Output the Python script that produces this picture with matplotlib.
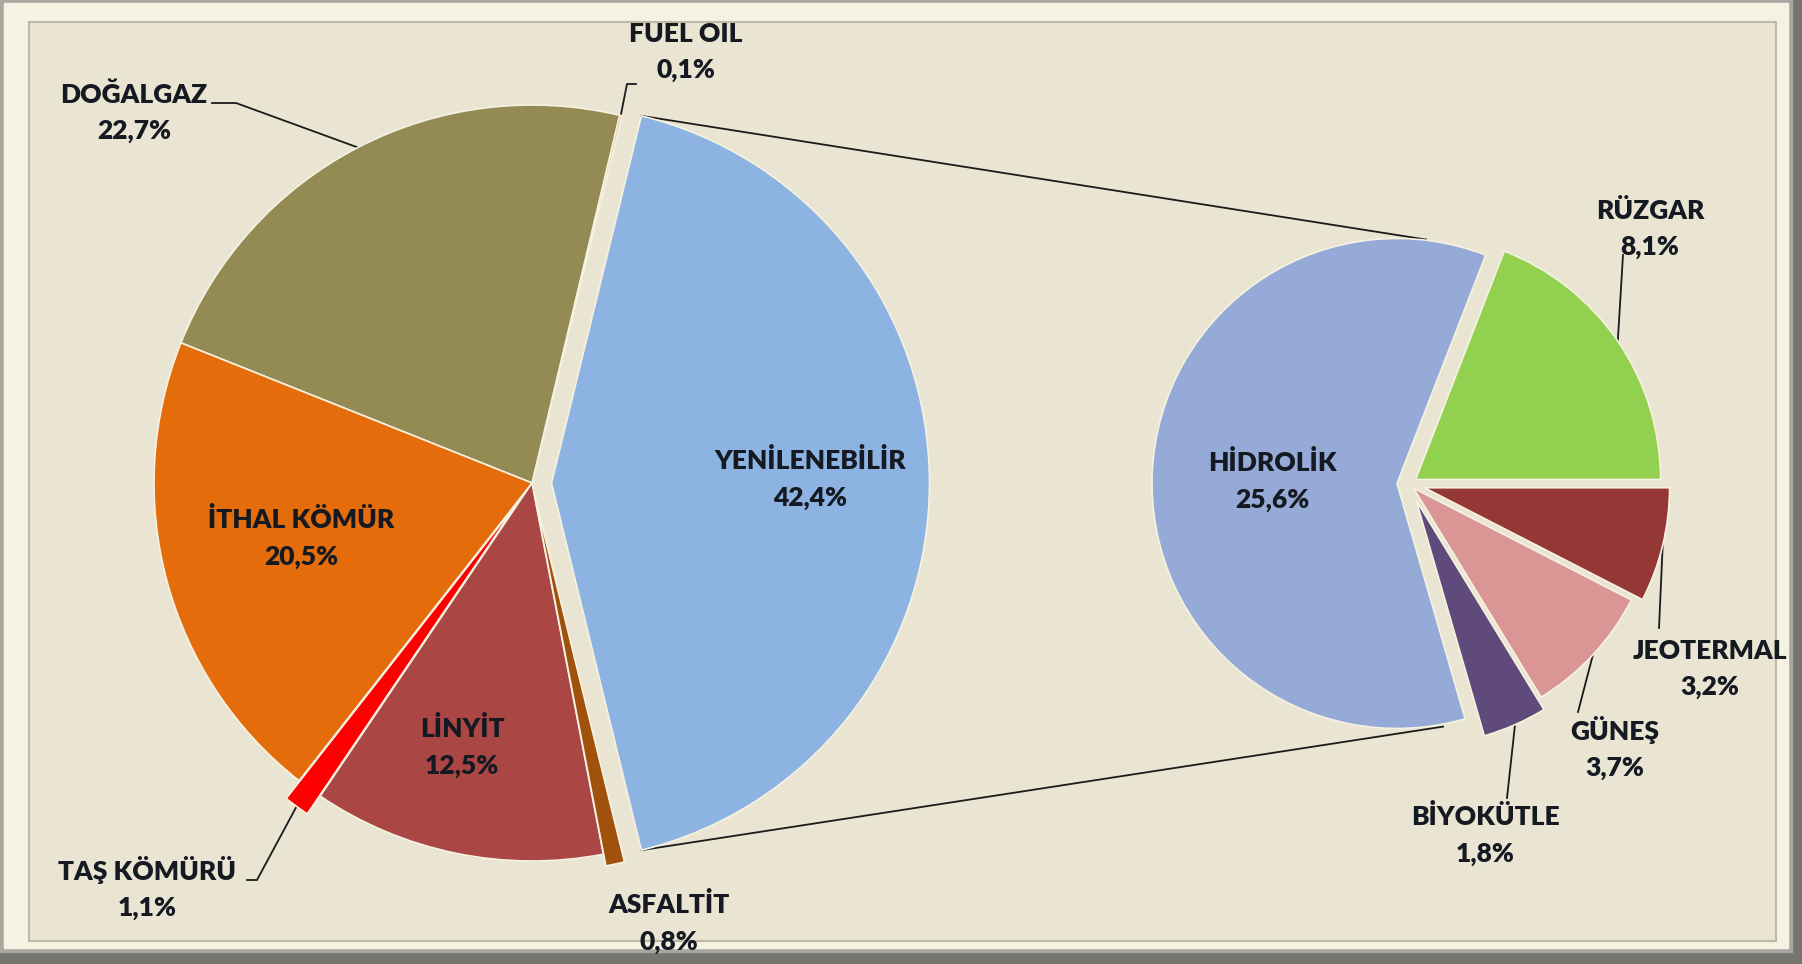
import numpy as np
import matplotlib
matplotlib.use("Agg")
import matplotlib.pyplot as plt
from matplotlib.patches import Rectangle

# main pie (starts with the renewable slice, counter-clockwise)
main_labels = ["YENİLENEBİLİR", "FUEL OIL", "DOĞALGAZ", "İTHAL KÖMÜR", "TAŞ KÖMÜRÜ", "LİNYİT", "ASFALTİT"]
main_values = [42.4, 0.1, 22.7, 20.5, 1.1, 12.5, 0.8]
main_colors = ["#8db3e2", "#e9a36a", "#948a54", "#e46c0a", "#ff0000", "#aa4644", "#a0520c"]

# breakdown of the renewable share
sub_labels = ["BİYOKÜTLE", "GÜNEŞ", "JEOTERMAL", "RÜZGAR", "HİDROLİK"]
sub_values = [1.8, 3.7, 3.2, 8.1, 25.6]
sub_colors = ["#604a7b", "#d99694", "#953735", "#92d050", "#95aad6"]

W, H = 1802, 964


def P(x, y):
    # pixel coords (y down) -> data coords (y up)
    return x, H - y


def fmt(v):
    return f"{v:.1f}".replace(".", ",") + "%"


def arc_mid(w):
    th = np.deg2rad((w.theta1 + w.theta2) / 2)
    return w.center[0] + w.r * np.cos(th), w.center[1] + w.r * np.sin(th)


def corner(w, ang):
    th = np.deg2rad(ang)
    return w.center[0] + w.r * np.cos(th), w.center[1] + w.r * np.sin(th)


fig = plt.figure(figsize=(W / 100, H / 100), dpi=100)
ax = fig.add_axes([0, 0, 1, 1])

# frame / bevel
ax.add_patch(Rectangle((0, 0), W, H, color="#76756f", zorder=0))
ax.add_patch(Rectangle(P(0, 952), 1792, 952, color="#a8a79f", zorder=0))
ax.add_patch(Rectangle(P(4, 948), 1784, 945, color="#f5f2e4", zorder=0))
ax.add_patch(Rectangle(P(29, 941), 1747, 919, facecolor="#eae5d2",
                       edgecolor="#bdb9a5", lw=1.5, zorder=0))

edge = dict(edgecolor="#f6f2e2", linewidth=1.2)
font = dict(family=["Lato", "DejaVu Sans"], weight="heavy", fontsize=19,
            color="#141922", ha="center", va="center", linespacing=1.6, zorder=10)

# left pie
c1, r1 = P(532, 483), 378
start1 = -main_values[0] / sum(main_values) * 180
w1, _ = ax.pie(main_values, colors=main_colors, radius=r1, center=c1,
               startangle=start1, explode=[19.5, 0, 0, 0, 22, 0, 12],
               wedgeprops=edge, frame=True)

# right pie
c2, r2 = P(1409, 484), 245
start2 = -sum(sub_values[:3]) / sum(sub_values) * 360
w2, _ = ax.pie(sub_values, colors=sub_colors, radius=r2, center=c2,
               startangle=start2, explode=[18, 6, 16, 8, 12],
               wedgeprops=edge, frame=True)

# connector lines between the pies
yen = w1[0]
top2 = (c2[0] + r2 * np.cos(np.deg2rad(86)), c2[1] + r2 * np.sin(np.deg2rad(86)))
bot2 = (c2[0] + r2 * np.cos(np.deg2rad(-82)), c2[1] + r2 * np.sin(np.deg2rad(-82)))
for a, b in [(corner(yen, yen.theta2), top2), (corner(yen, yen.theta1), bot2)]:
    ax.plot([a[0], b[0]], [a[1], b[1]], color="#1a1a1a", lw=1.3, zorder=0.5)

# labels
main_pos = [(810, 479), (686, 52), (134, 113), (301, 538), (147, 888), (462, 747), (669, 923)]
sub_pos = [(1485, 835), (1615, 748), (1710, 669), (1650, 229), (1272, 481)]
for lab, v, p in zip(main_labels, main_values, main_pos):
    ax.text(*P(*p), f"{lab}\n{fmt(v)}", **font)
for lab, v, p in zip(sub_labels, sub_values, sub_pos):
    ax.text(*P(*p), f"{lab}\n{fmt(v)}", **font)

# leader lines
main_leaders = {1: [(636, 84), (627, 84)], 2: [(212, 103), (236, 103)], 4: [(247, 880), (257, 880)]}
sub_leaders = {0: [(1507, 798)], 1: [(1578, 712)], 2: [(1659, 628)], 3: [(1623, 255)]}
for wedges, leaders in [(w1, main_leaders), (w2, sub_leaders)]:
    for i, pts in leaders.items():
        xy = [P(*p) for p in pts] + [arc_mid(wedges[i])]
        xs, ys = zip(*xy)
        ax.plot(xs, ys, color="#1a1a1a", lw=1.3, zorder=0.5)

ax.set_xlim(0, W)
ax.set_ylim(0, H)
ax.set_aspect("equal")
ax.axis("off")

fig.savefig("out.png", dpi=100)
